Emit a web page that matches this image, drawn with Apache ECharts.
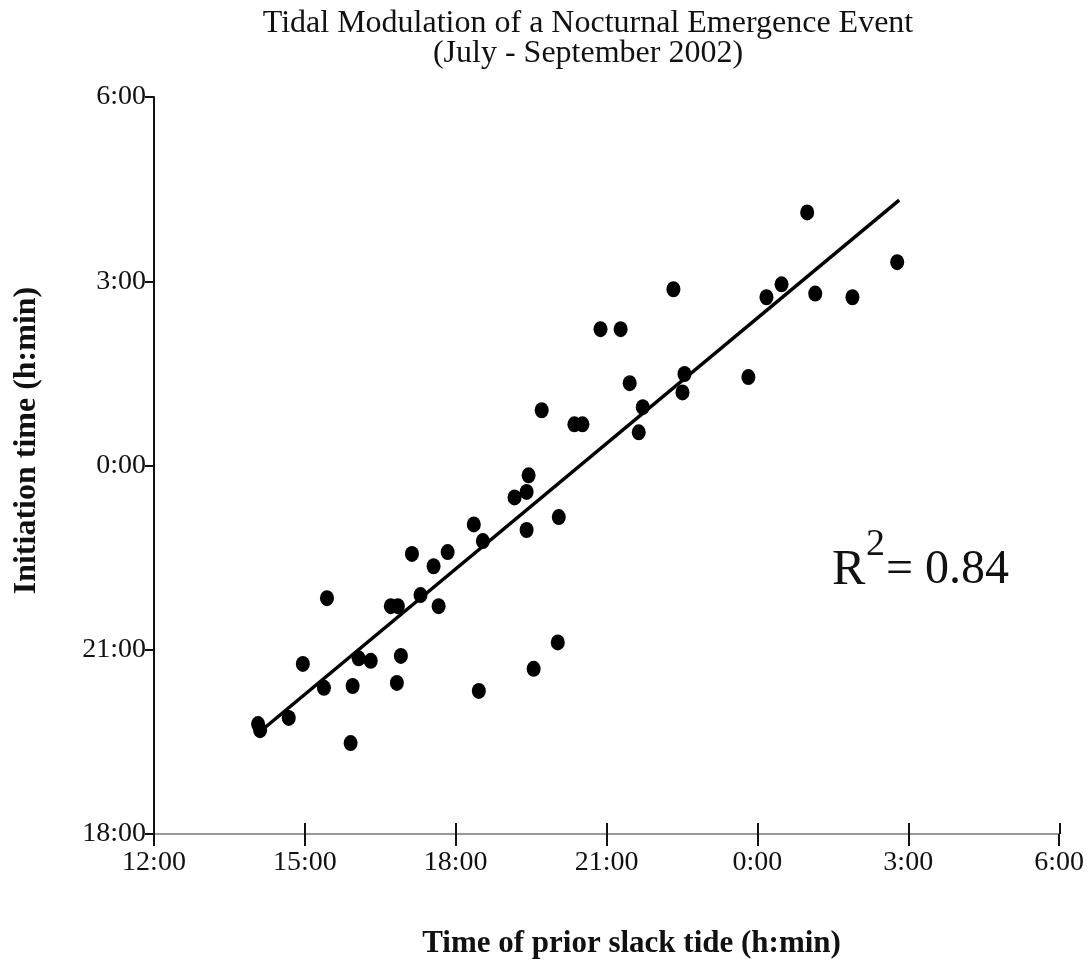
<!DOCTYPE html>
<html>
<head>
<meta charset="utf-8">
<script src="https://cdn.jsdelivr.net/npm/echarts@6/dist/echarts.min.js"></script>
<style>html,body{margin:0;padding:0;background:#fff}#c{width:1087px;height:972px}</style>
</head>
<body>
<div id="c"></div>
<script>
// Time of prior slack tide (hours, >24 means next day) vs. initiation time (hours, >24 means next day)
var slackTide = [14.07,14.11,14.68,15.38,15.91,15.95,14.96,16.07,16.31,16.83,16.91,15.44,16.71,16.85,17.30,17.66,17.56,17.13,17.84,18.54,18.36,19.41,20.05,19.17,19.41,19.45,19.71,20.36,20.52,22.33,20.88,21.28,21.46,22.55,22.51,21.72,21.64,24.99,26.78,24.48,24.18,25.15,25.89,23.82,18.46,19.55,20.03];
var initiation = [19.79,19.69,19.89,20.38,19.48,20.41,20.77,20.86,20.82,20.46,20.90,21.84,21.71,21.71,21.89,21.71,22.36,22.56,22.59,22.77,23.04,22.95,23.16,23.48,23.57,23.84,24.90,24.67,24.67,26.87,26.22,26.22,25.34,25.49,25.19,24.95,24.54,28.12,27.31,26.95,26.74,26.80,26.74,25.44,20.33,20.69,21.12];
// Regression line end points (x, y)
var fitX = [14.07, 26.82];
var fitY = [19.64, 28.32];
var xTicks = ['12:00','15:00','18:00','21:00','0:00','3:00','6:00'];
var yTicks = ['18:00','21:00','0:00','3:00','6:00'];

var points = slackTide.map(function(x,i){ return [x, initiation[i]]; });
var fit = fitX.map(function(x,i){ return [x, fitY[i]]; });

var serif = '"Liberation Serif", "Times New Roman", serif';
var ellipse = 'path://M50,0A50,50,0,1,1,50,100A50,50,0,1,1,50,0Z';

var chart = echarts.init(document.getElementById('c'));
chart.setOption({
  backgroundColor: '#fff',
  animation: false,
  title: {
    text: 'Tidal Modulation of a Nocturnal Emergence Event\n(July - September 2002)',
    left: 583, top: 4, textAlign: 'center',
    textStyle: { fontFamily: serif, fontSize: 32, fontWeight: 'normal', color: '#111', lineHeight: 30 }
  },
  grid: [
    { left: 154, right: 27, top: 97, bottom: 138 },
    { left: 154, right: 27, top: 97, bottom: 138 }
  ],
  xAxis: [{
    type: 'value', gridIndex: 0, position: 'bottom', min: 12, max: 30, interval: 3,
    name: 'Time of prior slack tide (h:min)', nameLocation: 'middle', nameGap: 94,
    nameTextStyle: { fontFamily: serif, fontSize: 31, fontWeight: 'bold', color: '#111', padding: [0, 0, 0, 50] },
    axisLine: { lineStyle: { color: '#777', width: 1.5 } },
    axisTick: { length: 12, lineStyle: { color: '#111', width: 2 } },
    axisLabel: { fontFamily: serif, fontSize: 28, color: '#111', margin: 15, formatter: function(v){ return xTicks[Math.round((v-12)/3)]; } },
    splitLine: { show: false }
  }, {
    type: 'value', gridIndex: 1, position: 'bottom', min: 12, max: 30, interval: 3,
    axisLine: { show: false },
    axisTick: { inside: true, length: 11, lineStyle: { color: '#111', width: 2 } },
    axisLabel: { show: false },
    splitLine: { show: false }
  }],
  yAxis: [{
    type: 'value', gridIndex: 0, min: 18, max: 30, interval: 3,
    name: 'Initiation time (h:min)', nameLocation: 'middle', nameGap: 111, nameRotate: 90,
    nameTextStyle: { fontFamily: serif, fontSize: 32, fontWeight: 'bold', color: '#111', padding: [0, 0, 0, 50] },
    axisLine: { lineStyle: { color: '#111', width: 2 } },
    axisTick: { length: 9, lineStyle: { color: '#111', width: 2 } },
    axisLabel: { fontFamily: serif, fontSize: 28, color: '#111', margin: 8, formatter: function(v){ return yTicks[Math.round((v-18)/3)]; } },
    splitLine: { show: false }
  }, {
    type: 'value', gridIndex: 1, min: 18, max: 30, interval: 3, show: false
  }],
  graphic: [
    { type: 'text', left: 832, top: 546, style: { text: 'R', font: '50px ' + serif, fill: '#111' } },
    { type: 'text', left: 866, top: 526, style: { text: '2', font: '38px ' + serif, fill: '#111' } },
    { type: 'text', left: 886, top: 546, style: { text: '= 0.84', font: '48px ' + serif, fill: '#111' } }
  ],
  series: [{
    type: 'line', xAxisIndex: 0, yAxisIndex: 0, data: fit, symbol: 'none',
    lineStyle: { color: '#000', width: 3.5 }, z: 2
  }, {
    type: 'scatter', xAxisIndex: 0, yAxisIndex: 0, data: points,
    symbol: ellipse, symbolSize: [14, 16],
    itemStyle: { color: '#000', opacity: 1 }, z: 3
  }]
});
</script>
</body>
</html>
